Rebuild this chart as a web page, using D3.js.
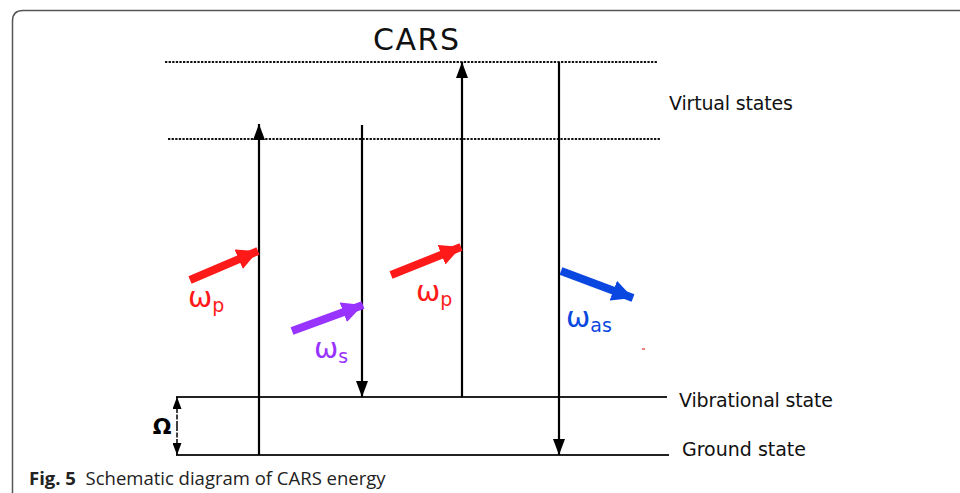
<!DOCTYPE html>
<html><head><meta charset="utf-8">
<script src="https://cdn.jsdelivr.net/npm/d3@7/dist/d3.min.js"></script>
<style>html,body{margin:0;padding:0;background:#fff;}svg{display:block;}</style>
</head><body>
<script>
// Energy levels (arbitrary energy units, ground = 0)
const levelNames = ["Ground state", "Vibrational state", "Virtual state 1", "Virtual state 2"];
const levelEnergy = [0, 58, 316, 393];
const levelStyle = ["solid", "solid", "dotted", "dotted"];
// Vertical transitions: horizontal position, from/to energy
const transPos = [0, 103, 203, 300];
const transFrom = [0, 330, 58, 393];
const transTo = [331, 58, 393, 0];
// Beam labels
const beamLabels = ["p", "s", "p", "as"];
const beamColors = ["#ff1a1a", "#9933ff", "#ff1a1a", "#0a47e0"];

const W = 960, H = 493;
const svg = d3.select("body").append("svg").attr("width", W).attr("height", H);
const y = d3.scaleLinear().domain([0, 393]).range([455, 62]);
const x = d3.scaleLinear().domain([0, 300]).range([259, 559]);

const defs = svg.append("defs");
function marker(id, color, w, l) {
  defs.append("marker").attr("id", id).attr("viewBox", `0 -${w/2} ${l} ${w}`)
    .attr("refX", l).attr("refY", 0).attr("markerUnits", "userSpaceOnUse")
    .attr("markerWidth", l).attr("markerHeight", w).attr("orient", "auto-start-reverse")
    .append("path").attr("d", `M0,-${w/2}L${l},0L0,${w/2}Z`).attr("fill", color);
}
marker("blk", "#000", 12, 16);
marker("omg", "#000", 9, 12);
beamColors.forEach((c, i) => marker("beam" + i, c, 21, 21));

// Frame
svg.append("path").attr("d", `M12.5,493 L12.5,21 Q12.5,10.5 23,10.5 L960,10.5`)
  .attr("fill", "none").attr("stroke", "#555").attr("stroke-width", 1.5);

// Levels
const levelX0 = [176, 176, 168, 165], levelX1 = [669, 667, 660, 658];
svg.selectAll("line.level").data(levelEnergy).join("line").attr("class", "level")
  .attr("x1", (d, i) => levelX0[i]).attr("x2", (d, i) => levelX1[i])
  .attr("y1", d => y(d)).attr("y2", d => y(d))
  .attr("stroke", (d, i) => levelStyle[i] === "solid" ? "#222" : "#111")
  .attr("stroke-width", 1.8)
  .attr("stroke-dasharray", (d, i) => levelStyle[i] === "solid" ? null : "2.3,1.3");

// Vertical transitions
svg.selectAll("line.trans").data(transPos).join("line").attr("class", "trans")
  .attr("x1", d => x(d)).attr("x2", d => x(d))
  .attr("y1", (d, i) => y(transFrom[i])).attr("y2", (d, i) => y(transTo[i]))
  .attr("stroke", "#000").attr("stroke-width", 2.2)
  .attr("marker-end", "url(#blk)");

// Omega arrow
[0, 58].forEach(e => {
  svg.append("line").attr("x1", 177).attr("x2", 177).attr("y1", y(29)).attr("y2", y(e))
    .attr("stroke", "#000").attr("stroke-width", 1.5).attr("stroke-dasharray", "5,1.5")
    .attr("marker-end", "url(#omg)");
});
svg.append("text").attr("x", 162).attr("y", y(29) + 8).attr("text-anchor", "middle")
  .attr("font-family", "DejaVu Sans").attr("font-weight", "bold").attr("font-size", 22).text("Ω");

// Beams (colored arrows)
const beamStart = [[190, 280], [292, 331], [391, 275], [561, 271]];
const beamEnd = [[258, 251], [363, 305], [461, 247], [633, 298]];
svg.selectAll("line.beam").data(beamLabels).join("line").attr("class", "beam")
  .attr("x1", (d, i) => beamStart[i][0]).attr("y1", (d, i) => beamStart[i][1])
  .attr("x2", (d, i) => beamEnd[i][0]).attr("y2", (d, i) => beamEnd[i][1])
  .attr("stroke", (d, i) => beamColors[i]).attr("stroke-width", 8)
  .attr("marker-end", (d, i) => `url(#beam${i})`);

const labelPos = [[188, 307], [314, 358], [416, 301], [566, 327]];
const lab = svg.selectAll("text.beam").data(beamLabels).join("text").attr("class", "beam")
  .attr("x", (d, i) => labelPos[i][0]).attr("y", (d, i) => labelPos[i][1])
  .attr("fill", (d, i) => beamColors[i])
  .attr("font-family", "DejaVu Sans").attr("font-size", 29);
lab.append("tspan").text("ω");
lab.append("tspan").attr("font-size", 19).attr("dy", 5).text(d => d);

// small red speck
svg.append("rect").attr("x", 642).attr("y", 348).attr("width", 3).attr("height", 2).attr("fill", "#f08080");

// Texts
const txt = (t, xx, yy, size, fam) => svg.append("text").attr("x", xx).attr("y", yy)
  .attr("font-family", fam || "DejaVu Sans").attr("font-size", size).attr("fill", "#111").text(t);
txt("CARS", 416, 50, 30).attr("text-anchor", "middle").attr("textLength", 86);
txt("Virtual states", 669, 110, 19).attr("textLength", 124);
txt("Vibrational state", 679, 407, 19).attr("textLength", 154);
txt("Ground state", 682, 456, 19).attr("textLength", 124);

const cap = svg.append("text").attr("x", 29).attr("y", 485).attr("font-family", "Open Sans")
  .attr("font-size", 18.5).attr("fill", "#222");
cap.append("tspan").attr("font-weight", "bold").text("Fig. 5");
cap.append("tspan").text("\u00a0 Schematic diagram of CARS energy");
</script>
</body></html>
